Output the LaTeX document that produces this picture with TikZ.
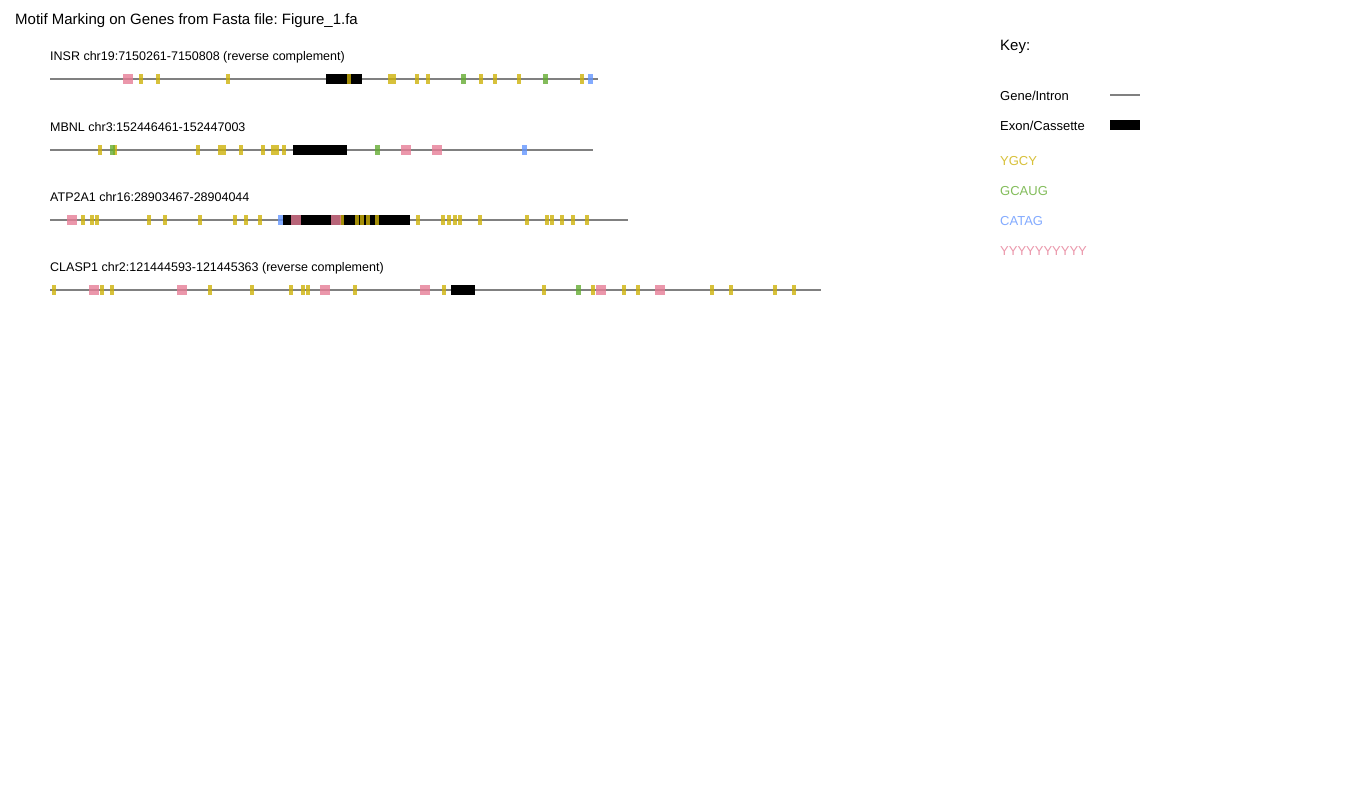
\documentclass[tikz,border=0pt]{standalone}
\usepackage{fontspec}
\setmainfont{Liberation Sans}
\frenchspacing
\definecolor{introncol}{RGB}{128,128,128}
\definecolor{ycol}{RGB}{206,178,10}
\definecolor{gcol}{RGB}{100,172,50}
\definecolor{bcol}{RGB}{100,150,255}
\definecolor{pcol}{RGB}{230,125,150}
\begin{document}
\begin{tikzpicture}[x=1pt,y=-1pt,
  intron/.style={draw=introncol,line width=2pt},
  exon/.style={fill=black},
  ygcy/.style={fill=ycol,fill opacity=0.8},
  gcaug/.style={fill=gcol,fill opacity=0.8},
  catag/.style={fill=bcol,fill opacity=0.8},
  poly/.style={fill=pcol,fill opacity=0.8},
  title/.style={anchor=base west,inner sep=0pt,font=\fontsize{15}{18}\selectfont},
  genelabel/.style={anchor=base west,inner sep=0pt,font=\fontsize{12.5}{15}\selectfont},
  keylabel/.style={anchor=base west,inner sep=0pt,font=\fontsize{13}{16}\selectfont}]
\useasboundingbox (0,0) rectangle (1350,800);
\fill[white] (0,0) rectangle (1350,800);

\node[title] (title) at (15,25) {Motif Marking on Genes from Fasta file: Figure\_1.fa};

% ---------- INSR ----------
\def\ty{79.5}
\node[genelabel] (insr) at (50,\ty-18.5) {INSR chr19:7150261-7150808 (reverse complement)};
\draw[intron] (50,\ty) -- (597.5,\ty);
\fill[exon] (326,\ty-5) rectangle (362,\ty+5);
\foreach \a/\b in {139/143,156/160,226/230,347/351,388/392,392/396,415/419,426/430,479/483,493/497,517/521,580/584}
  \fill[ygcy] (\a,\ty-5) rectangle (\b,\ty+5);
\foreach \a/\b in {461/466,543/548}
  \fill[gcaug] (\a,\ty-5) rectangle (\b,\ty+5);
\foreach \a/\b in {588/593}
  \fill[catag] (\a,\ty-5) rectangle (\b,\ty+5);
\foreach \a/\b in {123/133}
  \fill[poly] (\a,\ty-5) rectangle (\b,\ty+5);

% ---------- MBNL ----------
\def\ty{149.5}
\node[genelabel] (mbnl) at (50,\ty-18.5) {MBNL chr3:152446461-152447003};
\draw[intron] (50,\ty) -- (593,\ty);
\fill[exon] (293,\ty-5) rectangle (347,\ty+5);
\foreach \a/\b in {98/102,113/117,196/200,218/222,222/226,239/243,261/265,271/275,275/279,282/286}
  \fill[ygcy] (\a,\ty-5) rectangle (\b,\ty+5);
\foreach \a/\b in {110/115,375/380}
  \fill[gcaug] (\a,\ty-5) rectangle (\b,\ty+5);
\foreach \a/\b in {522/527}
  \fill[catag] (\a,\ty-5) rectangle (\b,\ty+5);
\foreach \a/\b in {401/411,432/442}
  \fill[poly] (\a,\ty-5) rectangle (\b,\ty+5);

% ---------- ATP2A1 ----------
\def\ty{219.5}
\node[genelabel] (atp) at (50,\ty-18.5) {ATP2A1 chr16:28903467-28904044};
\draw[intron] (50,\ty) -- (628,\ty);
\fill[exon] (283,\ty-5) rectangle (410,\ty+5);
\foreach \a/\b in {81/85,90/94,95/99,147/151,163/167,198/202,233/237,244/248,258/262,340/344,355/359,360/364,366/370,375/379,416/420,441/445,447/451,453/457,458/462,478/482,525/529,545/549,550/554,560/564,571/575,585/589}
  \fill[ygcy] (\a,\ty-5) rectangle (\b,\ty+5);
\foreach \a/\b in {278/283}
  \fill[catag] (\a,\ty-5) rectangle (\b,\ty+5);
\foreach \a/\b in {67/77,291/301,331/341}
  \fill[poly] (\a,\ty-5) rectangle (\b,\ty+5);

% ---------- CLASP1 ----------
\def\ty{289.5}
\node[genelabel] (clasp) at (50,\ty-18.5) {CLASP1 chr2:121444593-121445363 (reverse complement)};
\draw[intron] (50,\ty) -- (821,\ty);
\fill[exon] (451,\ty-5) rectangle (475,\ty+5);
\foreach \a/\b in {52/56,100/104,110/114,208/212,250/254,289/293,301/305,306/310,353/357,442/446,542/546,591/595,622/626,636/640,710/714,729/733,773/777,792/796}
  \fill[ygcy] (\a,\ty-5) rectangle (\b,\ty+5);
\foreach \a/\b in {576/581}
  \fill[gcaug] (\a,\ty-5) rectangle (\b,\ty+5);
\foreach \a/\b in {89/99,177/187,320/330,420/430,596/606,655/665}
  \fill[poly] (\a,\ty-5) rectangle (\b,\ty+5);

% ---------- key ----------
\node[anchor=base west,inner sep=0pt,font=\fontsize{15}{18}\selectfont] (key) at (1000,51) {Key:};
\node[keylabel] (kintron) at (1000,100) {Gene/Intron};
\draw[intron] (1110,95.5) -- (1140,95.5);
\node[keylabel] (kexon) at (1000,130) {Exon/Cassette};
\fill[exon] (1110,120) rectangle (1140,130);
\node[keylabel,text=ycol!80] (kygcy) at (1000,165) {YGCY};
\node[keylabel,text=gcol!80] (kgcaug) at (1000,195) {GCAUG};
\node[keylabel,text=bcol!80] (kcatag) at (1000,225) {CATAG};
\node[keylabel,text=pcol!80] (kpoly) at (1000,255) {YYYYYYYYYY};
\end{tikzpicture}
\end{document}
